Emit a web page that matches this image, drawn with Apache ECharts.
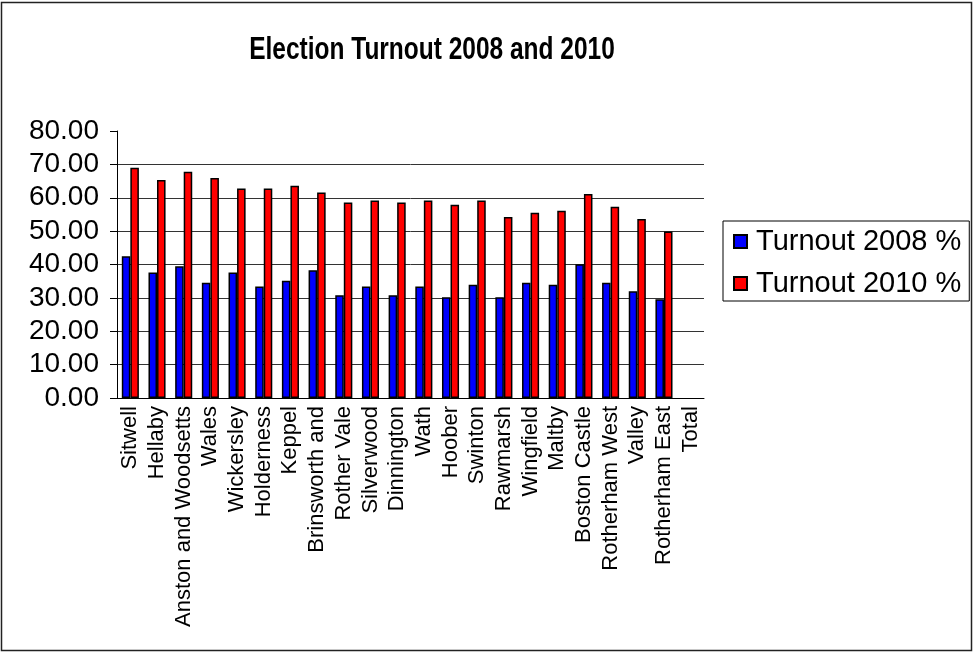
<!DOCTYPE html>
<html>
<head>
<meta charset="utf-8">
<script src="https://cdn.jsdelivr.net/npm/echarts@6/dist/echarts.min.js"></script>
<style>
html,body{margin:0;padding:0;background:#fff;}
#chart{width:976px;height:653px;}
</style>
</head>
<body>
<div id="chart"></div>
<script>
const categories = ["Sitwell","Hellaby","Anston and Woodsetts","Wales","Wickersley","Holderness","Keppel","Brinsworth and","Rother Vale","Silverwood","Dinnington","Wath","Hoober","Swinton","Rawmarsh","Wingfield","Maltby","Boston Castle","Rotherham West","Valley","Rotherham East","Total"];
const turnout2008 = [42.5,37.6,39.5,34.5,37.6,33.4,35.1,38.3,30.8,33.4,30.8,33.4,30.2,33.9,30.2,34.5,33.9,40.1,34.5,32.0,29.6,null];
const turnout2010 = [69.0,65.3,67.8,65.9,62.8,62.8,63.6,61.6,58.6,59.2,58.6,59.2,57.9,59.2,54.2,55.5,56.1,61.1,57.3,53.6,49.9,null];
const seriesNames = ["Turnout 2008 %","Turnout 2010 %"];
const chartTitle = "Election Turnout 2008 and 2010";

const FONT = "'Liberation Sans', Arial, sans-serif";
const chart = echarts.init(document.getElementById('chart'), null, {renderer:'canvas'});
chart.setOption({
  backgroundColor:'#fff',
  animation:false,
  legend:{
    orient:'vertical',
    left:723,
    top:221,
    padding:[6,8,3,10],
    itemGap:13,
    itemWidth:13,
    itemHeight:13,
    icon:'rect',
    borderColor:'#000',
    borderWidth:1,
    textStyle:{fontFamily:FONT,fontSize:29,color:'#000',padding:[0,0,0,4]},
    data:seriesNames
  },
  grid:{left:117,right:272,top:131,bottom:255,containLabel:false},
  xAxis:{
    type:'category',
    data:categories,
    boundaryGap:true,
    axisLine:{lineStyle:{color:'#000',width:1}},
    axisTick:{alignWithLabel:false,length:7,lineStyle:{color:'#000'}},
    axisLabel:{rotate:90,interval:0,fontFamily:FONT,fontSize:22,color:'#000',margin:8}
  },
  yAxis:{
    type:'value',
    min:0,max:80,interval:10,
    axisLine:{show:true,lineStyle:{color:'#000',width:1}},
    axisTick:{show:true,length:7,lineStyle:{color:'#000'}},
    axisLabel:{fontFamily:FONT,fontSize:28,color:'#000',margin:18,formatter:v=>v.toFixed(2)},
    splitLine:{show:true,showMaxLine:false,lineStyle:{color:'#333',width:1}}
  },
  graphic:[{
    type:'rect',
    shape:{x:1.5,y:2.5,width:970,height:648},
    style:{fill:null,stroke:'#222',lineWidth:1.5},
    silent:true,z:-1
  },{
    type:'text',
    x:432,y:50,
    scaleX:0.79,
    silent:true,
    style:{text:chartTitle,fill:'#000',font:"bold 31px 'Liberation Sans', Arial, sans-serif",
      textAlign:'center',textVerticalAlign:'middle'}
  }],
  series:[
    {name:seriesNames[0],type:'bar',data:turnout2008,barWidth:'32%',barGap:'0%',
     itemStyle:{color:'#0000ff',borderColor:'#000',borderWidth:1.5}},
    {name:seriesNames[1],type:'bar',data:turnout2010,barWidth:'32%',barGap:'0%',
     itemStyle:{color:'#ff0000',borderColor:'#000',borderWidth:1.5}}
  ]
});
</script>
</body>
</html>
